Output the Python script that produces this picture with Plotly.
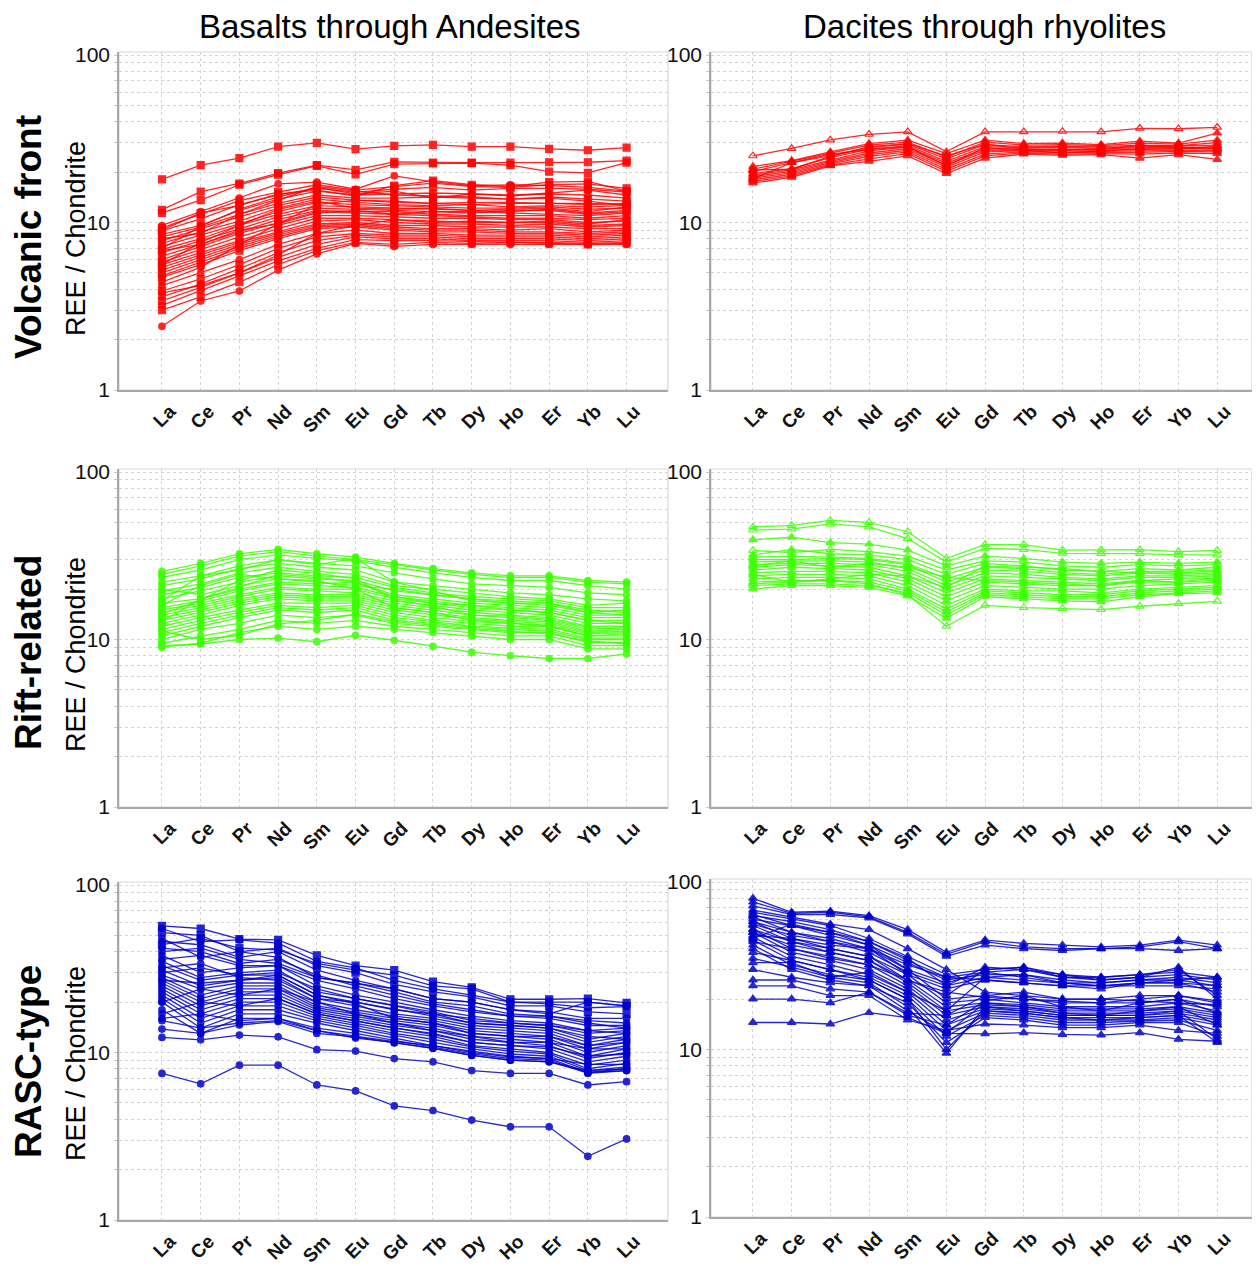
import plotly.graph_objects as go

REE = ["La", "Ce", "Pr", "Nd", "Sm", "Eu", "Gd", "Tb", "Dy", "Ho", "Er", "Yb", "Lu"]
COL_TITLES = ["Basalts through Andesites", "Dacites through rhyolites"]
ROW_TITLES = ["Volcanic front", "Rift-related", "RASC-type"]
Y_TITLE = "REE / Chondrite"
Y_TICKS = [1, 10, 100]

# ---------------- Volcanic front, basalts-andesites ----------------
VF_BA = [
    [18.1, 22.0, 24.2, 28.4, 29.9, 27.4, 28.7, 29.1, 28.4, 28.4, 27.5, 27.0, 28.0],
    [11.9, 15.3, 17.1, 19.7, 22.0, 20.6, 23.0, 22.8, 22.8, 22.8, 22.9, 22.9, 23.4],
    [11.4, 13.6, 16.8, 19.3, 21.8, 19.4, 22.3, 22.5, 22.6, 22.0, 20.1, 19.8, 22.8],
    [9.6, 11.6, 14.0, 17.0, 17.4, 15.8, 19.0, 17.5, 16.6, 16.8, 16.6, 16.2, 15.4],
    [9.3, 11.2, 13.5, 15.2, 16.8, 15.6, 16.4, 17.2, 16.4, 16.2, 16.8, 17.0, 16.0],
    [8.9, 10.5, 12.8, 14.6, 16.0, 15.2, 15.8, 16.2, 15.6, 16.0, 16.0, 15.8, 15.2],
    [8.5, 9.6, 11.8, 13.8, 15.4, 14.6, 14.8, 15.0, 14.8, 14.6, 14.8, 14.6, 14.0],
    [8.2, 9.4, 11.2, 13.0, 14.6, 14.0, 14.0, 14.2, 14.0, 13.8, 14.2, 13.8, 13.4],
    [7.8, 9.2, 10.8, 12.6, 14.2, 13.6, 13.4, 13.0, 13.2, 13.2, 13.0, 13.0, 12.8],
    [7.5, 8.8, 10.2, 12.2, 13.8, 13.2, 12.8, 12.6, 12.8, 12.4, 12.6, 12.4, 12.6],
    [7.2, 8.4, 9.8, 11.6, 13.2, 12.8, 12.6, 12.4, 12.2, 12.2, 12.4, 12.0, 12.2],
    [6.9, 8.0, 9.6, 11.2, 12.6, 12.4, 12.2, 12.0, 11.8, 11.6, 12.0, 11.4, 11.8],
    [6.6, 7.8, 9.2, 10.8, 12.2, 12.0, 11.8, 11.6, 11.6, 11.4, 11.2, 11.0, 11.4],
    [6.3, 7.4, 8.8, 10.4, 11.8, 11.6, 11.6, 11.2, 11.0, 11.0, 11.0, 10.6, 11.0],
    [6.0, 7.2, 8.6, 10.0, 11.6, 11.4, 11.2, 11.0, 10.8, 10.6, 10.6, 10.4, 10.6],
    [5.8, 6.9, 8.2, 9.6, 11.0, 11.0, 10.8, 10.6, 10.6, 10.4, 10.4, 10.0, 10.2],
    [5.6, 6.6, 7.8, 9.2, 10.6, 10.6, 10.4, 10.2, 10.0, 10.0, 10.0, 9.6, 9.8],
    [5.4, 6.4, 7.6, 8.8, 10.2, 10.4, 10.0, 9.8, 9.8, 9.6, 9.8, 9.4, 9.6],
    [5.2, 6.2, 7.4, 8.6, 9.8, 10.0, 9.6, 9.6, 9.4, 9.4, 9.4, 9.2, 9.2],
    [5.0, 6.0, 7.2, 8.4, 9.6, 9.8, 9.4, 9.2, 9.2, 9.0, 9.2, 8.8, 9.0],
    [4.8, 5.8, 7.0, 8.2, 9.4, 9.6, 9.2, 9.0, 9.0, 8.8, 8.8, 8.6, 8.8],
    [4.7, 5.6, 6.8, 8.0, 9.2, 9.4, 9.0, 8.8, 8.8, 8.6, 8.6, 8.4, 8.6],
    [4.2, 5.0, 6.0, 7.4, 8.6, 9.0, 8.6, 8.6, 8.4, 8.4, 8.4, 8.2, 8.4],
    [3.9, 4.6, 5.6, 7.0, 8.2, 8.6, 8.4, 8.4, 8.2, 8.2, 8.2, 8.0, 8.2],
    [3.6, 4.3, 5.3, 6.6, 7.8, 8.4, 8.2, 8.2, 8.0, 8.0, 8.0, 7.8, 8.0],
    [3.4, 4.1, 5.0, 6.2, 7.4, 8.2, 8.0, 8.0, 7.8, 7.8, 7.8, 7.6, 7.8],
    [3.2, 3.9, 4.8, 5.9, 7.0, 7.9, 7.8, 7.8, 7.7, 7.6, 7.6, 7.5, 7.6],
    [3.0, 3.6, 4.4, 5.6, 6.8, 7.6, 7.4, 7.6, 7.5, 7.6, 7.5, 7.4, 7.5],
    [2.4, 3.4, 3.9, 5.2, 6.5, 7.5, 7.2, 7.4, 7.4, 7.4, 7.4, 7.4, 7.4],
    [9.0, 11.4, 12.6, 14.8, 15.6, 14.4, 16.6, 17.8, 16.8, 16.4, 17.4, 17.6, 15.4],
    [7.0, 9.5, 12.0, 14.2, 16.2, 14.8, 15.4, 14.0, 14.8, 14.4, 15.0, 15.6, 14.6],
    [5.6, 7.6, 9.6, 12.0, 13.4, 12.2, 12.0, 12.2, 11.8, 12.0, 12.2, 11.6, 12.4],
    [4.4, 5.4, 7.4, 9.8, 11.4, 11.8, 11.2, 11.6, 11.4, 11.8, 11.8, 11.2, 11.6],
    [3.8, 4.2, 5.0, 6.4, 8.6, 9.6, 10.4, 10.0, 10.2, 10.0, 10.2, 9.8, 10.4],
    [6.8, 7.4, 9.0, 9.8, 12.8, 13.6, 13.2, 13.0, 12.8, 13.0, 13.0, 12.8, 13.0],
    [8.0, 8.6, 11.2, 13.6, 16.4, 15.4, 14.6, 14.4, 14.2, 13.8, 14.0, 13.4, 12.6],
]
VF_BA_SYM = ["square", "square", "square", "circle", "square", "square", "circle", "square",
             "circle", "square", "circle", "square", "circle", "square", "circle", "square",
             "circle", "square", "circle", "square", "circle", "square", "circle", "square",
             "circle", "square", "circle", "square", "circle", "square", "circle", "square",
             "circle", "circle", "square", "circle"]

# ---------------- Volcanic front, dacites-rhyolites ----------------
VF_DR = [
    [25.0, 27.7, 31.1, 33.6, 34.8, 26.5, 34.8, 34.8, 35.0, 34.8, 36.5, 36.3, 37.0],
    [21.6, 23.4, 26.4, 29.6, 31.0, 25.8, 31.0, 29.6, 29.8, 29.2, 30.6, 29.8, 34.2],
    [20.8, 23.2, 26.0, 29.0, 30.2, 24.6, 30.2, 29.0, 29.2, 28.8, 29.8, 29.4, 31.0],
    [20.2, 22.8, 25.0, 28.0, 29.4, 24.0, 29.2, 28.4, 28.6, 28.4, 29.0, 28.8, 30.0],
    [19.6, 21.0, 24.4, 27.4, 28.8, 23.2, 28.4, 28.0, 28.2, 27.8, 28.4, 28.6, 29.0],
    [19.2, 20.6, 23.6, 26.8, 28.2, 22.6, 27.6, 27.6, 27.6, 27.4, 28.0, 28.0, 28.2],
    [18.8, 20.2, 23.2, 26.0, 27.6, 22.0, 27.0, 27.2, 27.2, 27.0, 27.4, 27.6, 27.6],
    [18.4, 19.8, 22.8, 25.4, 27.0, 21.4, 26.4, 26.8, 26.8, 26.6, 26.8, 27.0, 27.0],
    [18.0, 19.4, 22.4, 24.8, 26.4, 20.8, 25.6, 26.4, 26.2, 26.2, 26.2, 26.6, 26.4],
    [17.6, 19.0, 22.0, 24.0, 25.8, 20.2, 25.0, 26.0, 25.6, 25.8, 25.6, 26.0, 25.8],
    [17.2, 18.6, 21.8, 23.2, 25.0, 19.6, 24.2, 25.6, 25.2, 25.4, 24.2, 25.4, 23.8],
    [18.2, 22.8, 25.6, 27.2, 28.4, 21.8, 28.0, 27.0, 26.0, 26.8, 27.6, 27.4, 28.6],
    [20.6, 20.8, 24.8, 28.4, 29.6, 25.0, 29.4, 27.4, 27.0, 27.6, 28.8, 28.2, 27.6],
]
VF_DR_SYM = ["triangle-up-open"] + ["triangle-up"] * 12

# ---------------- Rift-related, basalts-andesites ----------------
RR_BA = [
    [25.5, 28.5, 32.5, 34.5, 32.5, 31.0, 28.5, 26.5, 25.0, 24.0, 24.0, 22.5, 22.0],
    [24.5, 27.5, 31.5, 33.5, 31.5, 30.0, 28.0, 26.0, 24.5, 23.5, 23.5, 22.0, 21.5],
    [23.5, 26.0, 30.0, 32.0, 30.5, 29.5, 27.0, 25.0, 23.5, 22.5, 22.5, 21.0, 20.0],
    [22.0, 24.0, 27.5, 30.0, 28.5, 27.5, 25.0, 23.0, 21.5, 21.0, 20.5, 19.0, 18.5],
    [21.0, 23.0, 26.5, 28.5, 27.0, 26.0, 22.0, 21.0, 20.0, 19.0, 18.5, 17.5, 17.0],
    [19.5, 21.5, 25.0, 27.0, 25.5, 24.5, 21.0, 20.0, 19.0, 18.0, 17.5, 16.0, 16.5],
    [18.5, 20.5, 23.5, 25.0, 24.0, 23.5, 20.5, 19.0, 18.0, 17.5, 17.0, 15.5, 15.5],
    [17.5, 19.5, 22.0, 24.0, 23.0, 22.5, 19.5, 18.5, 17.5, 16.5, 16.5, 15.0, 14.5],
    [16.5, 17.5, 20.0, 22.0, 21.5, 22.0, 18.5, 17.5, 16.5, 16.0, 15.5, 14.0, 14.0],
    [15.5, 17.0, 19.5, 21.5, 21.0, 20.5, 18.0, 17.0, 16.0, 15.5, 15.0, 13.5, 13.5],
    [15.0, 16.5, 18.5, 20.5, 20.0, 20.0, 17.5, 16.5, 15.5, 15.0, 14.5, 13.0, 13.0],
    [14.5, 16.0, 18.0, 20.0, 19.5, 19.0, 17.0, 16.0, 15.0, 14.5, 14.0, 12.5, 12.5],
    [14.0, 15.5, 17.5, 19.0, 18.5, 18.5, 16.5, 15.5, 14.5, 14.0, 13.5, 12.0, 12.0],
    [13.5, 15.0, 17.0, 18.5, 18.0, 18.0, 16.0, 15.0, 14.0, 13.5, 13.0, 11.5, 11.8],
    [13.0, 14.5, 16.5, 18.0, 17.5, 17.5, 15.5, 14.5, 13.5, 13.0, 12.8, 11.2, 11.5],
    [12.5, 14.0, 16.0, 17.5, 17.0, 17.0, 15.0, 14.0, 13.2, 12.8, 12.5, 11.0, 11.2],
    [12.0, 13.5, 15.0, 16.5, 16.5, 16.5, 14.5, 13.5, 12.8, 12.5, 12.2, 10.8, 11.0],
    [11.5, 13.0, 14.5, 16.0, 15.5, 16.0, 14.0, 13.0, 12.5, 12.0, 12.0, 10.5, 10.5],
    [11.0, 12.5, 14.0, 15.5, 15.0, 15.5, 13.5, 12.8, 12.0, 11.8, 11.5, 10.2, 10.2],
    [10.5, 12.0, 13.5, 15.0, 14.5, 15.0, 13.0, 12.5, 11.8, 11.5, 11.2, 10.0, 10.0],
    [10.0, 11.5, 12.5, 14.0, 13.5, 14.0, 12.5, 12.0, 11.5, 11.0, 11.0, 9.6, 9.6],
    [9.5, 10.5, 11.5, 13.0, 12.5, 13.0, 12.0, 11.5, 11.0, 10.5, 10.5, 9.2, 9.2],
    [9.0, 9.5, 11.0, 12.0, 11.5, 12.0, 11.5, 11.0, 10.5, 10.0, 10.0, 8.8, 8.8],
    [9.2, 9.4, 10.0, 10.2, 9.7, 10.6, 9.9, 9.1, 8.4, 8.0, 7.7, 7.7, 8.2],
    [17.0, 24.0, 26.0, 30.0, 28.0, 30.5, 22.0, 19.5, 17.0, 16.5, 16.0, 14.5, 14.0],
    [12.8, 17.5, 20.5, 24.5, 23.5, 22.0, 18.0, 16.5, 16.0, 15.0, 14.5, 13.0, 12.5],
    [20.0, 18.5, 21.0, 23.0, 22.0, 21.0, 20.0, 18.5, 17.5, 17.0, 16.5, 14.5, 15.0],
    [11.2, 10.0, 10.6, 12.4, 13.0, 14.2, 12.8, 12.2, 11.6, 11.2, 10.8, 9.8, 9.4],
    [16.0, 21.0, 24.5, 23.0, 22.5, 20.0, 15.5, 14.5, 13.0, 12.5, 12.0, 10.5, 10.8],
    [14.2, 17.2, 22.5, 26.0, 24.8, 23.0, 17.2, 15.8, 14.0, 13.8, 13.2, 11.8, 11.5],
]

# ---------------- Rift-related, dacites-rhyolites ----------------
RR_DR = [
    [47.0, 48.0, 51.4, 50.0, 44.0, 30.5, 36.9, 36.9, 34.2, 34.2, 34.4, 33.5, 34.0],
    [45.0, 45.6, 49.0, 47.0, 40.0, 29.0, 35.0, 34.5, 32.7, 32.6, 32.6, 32.0, 32.0],
    [39.4, 40.8, 37.9, 37.1, 34.2, 27.5, 31.5, 30.5, 29.0, 28.5, 29.0, 28.5, 29.0],
    [34.0, 33.0, 34.5, 33.5, 31.5, 26.0, 29.5, 29.0, 27.5, 27.0, 28.0, 27.5, 28.0],
    [32.0, 34.5, 32.5, 32.0, 30.0, 24.5, 28.5, 27.5, 26.0, 25.5, 26.5, 26.0, 27.0],
    [31.0, 31.5, 31.0, 30.5, 28.5, 23.0, 27.0, 26.5, 25.0, 24.5, 25.5, 25.5, 26.0],
    [30.0, 30.0, 30.5, 30.0, 28.0, 22.0, 26.0, 25.5, 24.5, 24.0, 25.0, 24.5, 25.0],
    [29.0, 29.5, 29.5, 29.0, 26.5, 21.0, 25.0, 24.5, 23.5, 23.0, 24.0, 24.0, 24.5],
    [28.0, 28.5, 28.5, 28.0, 25.5, 20.0, 24.0, 23.5, 23.0, 22.5, 23.5, 23.5, 24.0],
    [27.0, 28.0, 27.5, 27.0, 24.0, 19.0, 23.0, 22.5, 22.0, 21.5, 22.5, 23.0, 23.0],
    [26.0, 27.0, 26.5, 26.0, 23.0, 18.0, 22.0, 21.5, 21.0, 21.0, 22.0, 22.0, 22.5],
    [25.0, 25.5, 25.5, 25.0, 22.0, 17.0, 21.0, 20.5, 20.0, 20.0, 21.0, 21.5, 22.0],
    [24.0, 24.5, 24.5, 24.0, 21.0, 16.0, 20.0, 19.5, 19.5, 19.0, 20.0, 20.5, 21.0],
    [23.0, 23.5, 23.5, 23.0, 20.0, 15.2, 19.5, 19.0, 18.5, 18.5, 19.5, 20.0, 20.5],
    [22.0, 22.5, 22.5, 22.0, 19.5, 14.6, 19.0, 18.5, 18.0, 18.0, 19.0, 19.5, 20.0],
    [21.0, 21.5, 21.5, 21.0, 19.0, 14.0, 18.5, 18.0, 17.5, 17.5, 18.5, 19.0, 19.5],
    [20.0, 21.0, 21.0, 20.5, 18.2, 13.4, 18.0, 17.5, 17.0, 16.8, 18.0, 18.8, 19.0],
    [21.5, 22.0, 22.5, 21.5, 18.5, 12.0, 16.0, 15.5, 15.3, 15.1, 15.8, 16.4, 16.9],
    [27.5, 29.5, 27.0, 28.5, 27.0, 23.5, 22.5, 22.0, 21.5, 21.0, 22.5, 22.0, 23.5],
    [24.5, 22.0, 23.0, 24.5, 24.0, 20.5, 27.5, 27.0, 26.5, 25.5, 25.0, 25.0, 25.5],
]
RR_DR_SYM = ["triangle-up-open", "triangle-up-open", "triangle-up", "triangle-up-open",
             "triangle-up", "triangle-up-open", "triangle-up", "triangle-up", "triangle-up-open",
             "triangle-up-open", "triangle-up", "triangle-up", "triangle-up-open", "triangle-up",
             "triangle-up", "triangle-up-open", "triangle-up", "triangle-up-open", "triangle-up",
             "triangle-up"]

# ---------------- RASC-type, basalts-andesites ----------------
RA_BA = [
    [7.5, 6.5, 8.4, 8.4, 6.4, 5.9, 4.8, 4.5, 3.95, 3.6, 3.6, 2.4, 3.05],
    [12.3, 11.9, 12.7, 12.4, 10.4, 10.2, 9.2, 8.8, 7.8, 7.5, 7.5, 6.4, 6.7],
    [13.8, 13.0, 14.6, 15.3, 13.0, 12.4, 11.4, 10.6, 9.6, 9.0, 8.8, 7.6, 7.8],
    [57.0, 55.0, 47.5, 47.0, 38.0, 33.0, 31.0, 26.5, 24.5, 20.8, 20.8, 21.0, 19.8],
    [55.0, 46.0, 47.0, 45.0, 35.0, 32.0, 27.0, 24.0, 22.0, 20.0, 19.5, 18.5, 18.8],
    [52.0, 50.0, 40.0, 42.0, 33.0, 30.0, 25.5, 23.0, 21.5, 19.0, 19.0, 17.5, 17.0],
    [46.0, 44.0, 37.0, 40.0, 31.0, 27.0, 24.0, 21.0, 20.0, 18.0, 17.5, 16.0, 16.0],
    [42.0, 40.0, 34.0, 36.0, 29.0, 25.0, 22.0, 19.5, 18.0, 16.5, 16.5, 15.5, 15.0],
    [38.0, 30.0, 32.0, 33.0, 25.0, 22.0, 20.0, 18.0, 16.5, 15.5, 15.0, 13.5, 14.0],
    [35.0, 28.0, 30.0, 31.0, 23.0, 21.0, 19.0, 17.5, 15.5, 15.0, 14.5, 13.0, 13.5],
    [33.0, 27.0, 29.0, 29.0, 22.0, 20.0, 18.0, 16.5, 15.0, 14.5, 14.0, 12.0, 13.0],
    [31.0, 25.0, 27.0, 28.0, 21.0, 19.0, 17.0, 16.0, 14.5, 14.0, 13.5, 11.5, 12.5],
    [29.0, 24.0, 26.0, 26.0, 20.0, 18.0, 16.5, 15.5, 14.0, 13.5, 13.0, 11.0, 12.0],
    [28.0, 22.0, 25.0, 25.0, 19.0, 17.5, 16.0, 15.0, 13.5, 13.0, 12.5, 10.5, 11.5],
    [27.0, 21.0, 24.0, 24.0, 18.5, 17.0, 15.5, 14.5, 13.0, 12.5, 12.0, 10.0, 11.0],
    [26.0, 20.0, 23.0, 23.0, 18.0, 16.5, 15.0, 14.0, 12.5, 12.0, 11.5, 9.5, 10.5],
    [25.0, 19.0, 22.0, 22.0, 17.5, 16.0, 14.5, 13.5, 12.0, 11.5, 11.0, 9.2, 10.0],
    [24.0, 18.0, 21.0, 21.0, 17.0, 15.5, 14.0, 13.0, 11.5, 11.0, 10.5, 8.8, 9.5],
    [23.0, 17.0, 20.0, 20.0, 16.5, 15.0, 13.5, 12.5, 11.0, 10.5, 10.0, 8.4, 9.0],
    [22.0, 16.0, 19.0, 19.0, 16.0, 14.5, 13.0, 12.0, 10.8, 10.2, 9.8, 8.0, 8.6],
    [21.0, 15.0, 18.0, 18.0, 15.5, 14.0, 12.6, 11.5, 10.5, 9.8, 9.5, 7.8, 8.2],
    [20.0, 14.0, 17.0, 17.0, 15.0, 13.5, 12.2, 11.0, 10.2, 9.5, 9.2, 7.6, 8.0],
    [18.0, 13.0, 16.0, 16.0, 14.0, 13.0, 11.8, 10.8, 9.8, 9.2, 9.0, 7.5, 7.8],
    [16.0, 17.0, 15.5, 16.0, 13.5, 12.5, 11.6, 11.0, 10.0, 9.4, 9.2, 8.5, 8.5],
    [15.5, 14.0, 15.0, 15.5, 13.5, 12.2, 11.5, 10.6, 9.6, 9.0, 8.8, 7.8, 8.0],
    [30.0, 32.0, 29.0, 30.0, 24.0, 21.0, 19.0, 17.0, 15.0, 14.5, 14.0, 12.5, 12.0],
    [36.0, 38.0, 33.0, 33.0, 27.0, 24.0, 21.0, 19.0, 17.5, 16.5, 16.0, 14.5, 14.5],
    [40.0, 42.0, 36.0, 34.0, 28.0, 26.0, 23.0, 20.0, 19.0, 17.0, 16.5, 15.0, 14.0],
    [44.0, 48.0, 42.0, 41.0, 34.0, 31.0, 29.0, 25.0, 24.0, 20.0, 20.0, 20.0, 19.0],
    [32.0, 34.0, 28.0, 27.0, 21.0, 20.0, 18.0, 17.0, 16.0, 15.0, 14.5, 13.5, 13.0],
    [20.0, 24.0, 22.0, 24.0, 20.0, 17.0, 15.0, 13.5, 12.5, 11.5, 11.5, 10.5, 10.5],
    [17.0, 20.0, 19.0, 21.0, 17.0, 15.5, 14.0, 12.8, 11.5, 11.0, 10.8, 9.5, 9.8],
    [27.0, 26.0, 27.0, 29.0, 22.0, 19.5, 16.0, 15.0, 13.0, 12.5, 12.5, 11.0, 11.5],
    [48.0, 37.0, 40.0, 37.0, 28.0, 26.0, 24.0, 21.0, 20.0, 18.0, 17.0, 20.0, 19.0],
]
RA_BA_SYM = ["circle", "circle", "circle", "square", "circle", "square", "circle", "circle",
             "circle", "circle", "circle", "circle", "circle", "circle", "circle", "circle",
             "circle", "circle", "circle", "circle", "circle", "circle", "circle", "circle",
             "circle", "circle", "circle", "circle", "square", "circle", "circle", "circle",
             "circle", "circle"]

# ---------------- RASC-type, dacites-rhyolites ----------------
RA_DR = [
    [80, 66, 67, 63, 52, 38, 45, 43, 42, 41, 42, 45, 42],
    [76, 65, 66, 62, 50, 37, 44, 41, 40, 40, 41, 44, 40],
    [72, 64, 64, 61, 49, 36, 42, 40, 39, 40, 40, 39, 40],
    [66, 60, 55, 46, 36, 28, 30, 31, 28, 27, 28, 29, 27],
    [63, 58, 52, 44, 34, 27, 29, 30, 27, 26, 27, 28, 26],
    [60, 55, 50, 42, 33, 26, 28, 28, 26, 25, 26, 27, 25],
    [58, 50, 46, 40, 30, 25, 29, 27, 25, 25, 26, 26, 27],
    [56, 48, 44, 38, 29, 24, 27, 26, 25, 24, 25, 25, 24],
    [52, 44, 40, 36, 28, 23, 26, 25, 24, 24, 24, 24, 23],
    [50, 42, 38, 34, 26, 21, 30, 31, 27, 27, 28, 30, 21],
    [48, 46, 42, 40, 32, 27, 26, 25, 24, 23, 25, 25, 22],
    [64, 55, 48, 42, 30, 20, 21, 20, 19, 19, 19, 20, 18],
    [62, 50, 44, 40, 28, 19, 20, 19, 18, 18, 18, 19, 17],
    [58, 46, 40, 36, 26, 18, 19, 18.5, 17.5, 17.5, 17.5, 18, 16.5],
    [55, 44, 38, 34, 25, 17, 18.5, 18, 17, 17, 17, 17.5, 16],
    [52, 40, 36, 32, 24, 16, 18, 17.5, 16.5, 16.5, 16.5, 17, 15.5],
    [50, 38, 34, 30, 23, 15, 17.5, 17, 16, 16, 16, 16.5, 15],
    [47, 36, 32, 28, 22, 14, 17, 16.5, 15.5, 15.5, 15.5, 16, 14.5],
    [45, 34, 30, 27, 21, 13, 16.5, 16, 15, 15, 15, 15.5, 14],
    [42, 32, 28, 26, 20, 12, 16, 15.5, 14.5, 14.5, 14.8, 15, 13],
    [40, 30, 26, 24, 19, 11, 15.5, 15, 14, 14, 14.5, 14.5, 12],
    [38, 34, 30, 26, 20, 10, 17, 16.5, 15.5, 15, 15.5, 16, 11],
    [35, 31, 27, 25, 18, 9.5, 18, 17, 16, 16, 16, 17, 11.5],
    [30, 27, 25, 24, 17, 12.5, 19, 18, 16.5, 16, 17, 18, 14],
    [26, 26, 23, 22, 16, 14, 19.5, 21, 18, 17, 19, 20, 16.5],
    [24, 24, 21, 21, 15, 13, 14.2, 14, 13.5, 13.5, 14, 13, 12.5],
    [20, 20, 19, 22, 16.5, 16, 21, 22, 20, 20, 21, 21, 19],
    [14.5, 14.5, 14.2, 16.6, 15.5, 12.5, 12.4, 12.6, 12.3, 12.2, 12.6, 11.5, 11.2],
    [33, 33, 27, 29, 22, 17, 27, 28, 25, 24, 25, 26, 24],
    [44, 40, 35, 32, 26, 22, 20.5, 20, 19.5, 19, 20, 21, 19.5],
    [68, 62, 56, 52, 40, 30, 22, 21, 20, 20, 19.5, 19, 18.5],
    [46, 56, 50, 44, 35, 24, 31, 30, 28, 26, 27, 31, 20],
]

RED = "#ff0000"
GREEN = "#3cff00"
BLUE = "#0000cc"

# The page body has an 8px default margin: the figure starts 8px in from the
# window's top-left corner, so positions below are window pixels shifted by OFF.
OFF = 8
W, H = 1260 - 2 * OFF, 1266 - OFF


def px(p):
    return min(max((p - OFF) / W, 0.0), 1.0)


def py(p):
    return min(max(1 - (p - OFF) / H, 0.0), 1.0)


PANELS = [
    # data, symbols, color, x0, x1, ytop, ybot, xrange
    (VF_BA, VF_BA_SYM, RED, 119, 668, 52, 390, [-1.11, 13.07]),
    (VF_DR, VF_DR_SYM, RED, 711, 1252, 52, 390, [-1.085, 12.9]),
    (RR_BA, None, GREEN, 119, 668, 469, 807, [-1.11, 13.07]),
    (RR_DR, RR_DR_SYM, GREEN, 711, 1252, 469, 807, [-1.085, 12.9]),
    (RA_BA, RA_BA_SYM, BLUE, 119, 668, 882, 1220, [-1.11, 13.07]),
    (RA_DR, None, BLUE, 711, 1252, 879, 1217, [-1.085, 12.9]),
]

fig = go.Figure()
minor_vals = [v * m for v in (1, 10) for m in range(2, 10)]
FONT = "Liberation Sans, Arial, sans-serif"
shapes = []

for i, (data, syms, color, x0, x1, yt, yb, xr) in enumerate(PANELS):
    n = i + 1
    xa = "x" if n == 1 else f"x{n}"
    ya = "y" if n == 1 else f"y{n}"
    if syms is None:
        syms = ["triangle-up"] * len(data) if i in (1, 3, 5) else ["circle"] * len(data)
    for k, row in enumerate(data):
        s = syms[k]
        size = 7 if s.startswith("square") else (7.5 if s.startswith("triangle") else 6.5)
        fig.add_trace(go.Scatter(
            x=REE, y=row, mode="lines+markers", xaxis=xa, yaxis=ya,
            line=dict(color=color, width=1.3),
            marker=dict(symbol=s, size=size, color=color,
                        line=dict(color=color, width=1.2)),
            opacity=0.85, showlegend=False, hoverinfo="skip"))
    xkey = "xaxis" if n == 1 else f"xaxis{n}"
    ykey = "yaxis" if n == 1 else f"yaxis{n}"
    fig.update_layout(**{
        xkey: dict(domain=[px(x0), px(x1)], anchor=ya, type="category",
                   categoryorder="array", categoryarray=REE, range=xr,
                   tickvals=REE, ticktext=[f"<b>{t}</b>" for t in REE],
                   showgrid=True, gridcolor="#d4d4d4", griddash="dot", gridwidth=1,
                   showline=True, linecolor="#a8a8a8", linewidth=1.5,
                   ticks="", tickangle=-45, automargin=False,
                   tickfont=dict(family=FONT, size=19, color="#111"),
                   ticklabelstandoff=1, ticklabelshift=8, zeroline=False),
        ykey: dict(domain=[py(yb), py(yt)], anchor=xa, type="log",
                   range=[0, 2.018], tickvals=Y_TICKS, ticktext=["1", "10", "100"],
                   showgrid=True, gridcolor="#d4d4d4", griddash="dot", gridwidth=1,
                   minor=dict(tickvals=minor_vals, showgrid=True, gridcolor="#d4d4d4",
                              griddash="dot", ticks="outside", ticklen=3,
                              tickcolor="#c8c8c8"),
                   ticks="outside", ticklen=3, tickcolor="#c8c8c8", automargin=False,
                   showline=True, linecolor="#a8a8a8", linewidth=1.5,
                   tickfont=dict(family=FONT, size=21, color="#111"), zeroline=False),
    })
    shapes.append(dict(type="rect", xref="paper", yref="paper",
                       x0=px(x0), x1=px(x1), y0=py(yb), y1=py(yt),
                       line=dict(color="#d8d8d8", width=1.2), layer="below"))

annotations = []
col_centers = [390, 984]
for c, t in enumerate(COL_TITLES):
    annotations.append(dict(text=t, x=px(col_centers[c]), y=py(27), xref="paper", yref="paper",
                            showarrow=False, font=dict(family=FONT, size=33, color="#000"),
                            xanchor="center", yanchor="middle"))
row_centers = [237, 653, 1062]
for r, t in enumerate(ROW_TITLES):
    annotations.append(dict(text=f"<b>{t}</b>", x=px(28), y=py(row_centers[r]),
                            xref="paper", yref="paper", showarrow=False, textangle=-90,
                            font=dict(family=FONT, size=37, color="#000"),
                            xanchor="center", yanchor="middle"))
    annotations.append(dict(text=Y_TITLE, x=px(76), y=py(row_centers[r] + 2),
                            xref="paper", yref="paper", showarrow=False, textangle=-90,
                            font=dict(family=FONT, size=27, color="#000"),
                            xanchor="center", yanchor="middle"))

fig.update_layout(width=W, height=H, margin=dict(l=0, r=0, t=0, b=0, autoexpand=False),
                  paper_bgcolor="white", plot_bgcolor="white",
                  annotations=annotations, shapes=shapes)

fig.write_html("out.html")
